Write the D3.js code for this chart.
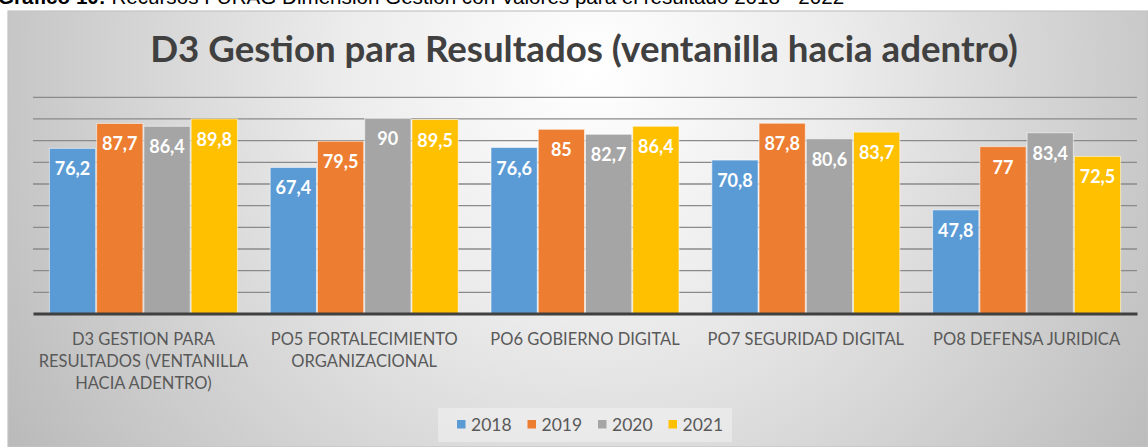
<!DOCTYPE html>
<html>
<head>
<meta charset="utf-8">
<script src="https://cdn.jsdelivr.net/npm/d3@7"></script>
<style>
  html, body { margin: 0; padding: 0; background: #ffffff; }
  svg { display: block; }
</style>
</head>
<body>
<svg id="chart" width="1148" height="447"></svg>
<script>
// ---- data ----
const caption = "Gráfico 10:";
const captionRest = " Recursos FURAG Dimensión Gestión con Valores para el resultado 2018 - 2022";
const title = "D3 Gestion para Resultados (ventanilla hacia adentro)";
const categories = [
  "D3 GESTION PARA RESULTADOS (VENTANILLA HACIA ADENTRO)",
  "PO5 FORTALECIMIENTO ORGANIZACIONAL",
  "PO6 GOBIERNO DIGITAL",
  "PO7 SEGURIDAD DIGITAL",
  "PO8 DEFENSA JURIDICA"
];
const seriesNames = ["2018", "2019", "2020", "2021"];
const values2018 = [76.2, 67.4, 76.6, 70.8, 47.8];
const values2019 = [87.7, 79.5, 85.0, 87.8, 77.0];
const values2020 = [86.4, 90.0, 82.7, 80.6, 83.4];
const values2021 = [89.8, 89.5, 86.4, 83.7, 72.5];
const yTicks = [0, 10, 20, 30, 40, 50, 60, 70, 80, 90, 100];
const colors = ["#5B9BD5", "#ED7D31", "#A5A5A5", "#FFC000"];

const series = [values2018, values2019, values2020, values2021];

const svg = d3.select("#chart");
const W = 1148, H = 447;

// background gradient
const defs = svg.append("defs");
const grad = defs.append("radialGradient")
  .attr("id", "bg").attr("gradientUnits", "userSpaceOnUse")
  .attr("cx", 590).attr("cy", 70).attr("r", 700);
grad.append("stop").attr("offset", "0").attr("stop-color", "#ffffff");
grad.append("stop").attr("offset", "0.35").attr("stop-color", "#ececec");
grad.append("stop").attr("offset", "1").attr("stop-color", "#b9b9b9");

svg.append("rect").attr("x", 8).attr("y", 11).attr("width", W - 8).attr("height", H - 11)
  .attr("fill", "url(#bg)").attr("stroke", "#c4c4c4").attr("stroke-width", 1.2);

// caption (cut off at the top, as in the source document)
const cap = svg.append("text").attr("x", -2).attr("y", 4)
  .attr("font-family", "Liberation Sans, Arial, sans-serif").attr("font-size", 18).attr("fill", "#000");
cap.append("tspan").attr("font-weight", "bold").text(caption);
cap.append("tspan").text(captionRest);
{
  const len = cap.node().getComputedTextLength();
  cap.attr("font-size", 18 * 847 / len);
}

// title
const tt = svg.append("text").attr("x", 584).attr("y", 62).attr("text-anchor", "middle")
  .attr("font-family", "Lato, sans-serif").attr("font-weight", "bold").attr("font-size", 32)
  .attr("fill", "#404040").text(title);
{
  const len = tt.node().getComputedTextLength();
  tt.attr("font-size", 32 * 868 / len);
}

// scales
const plotLeft = 33, plotRight = 1137, plotBottom = 313.5, plotTop = 96.8;
const x0 = d3.scaleBand().domain(categories).range([plotLeft, plotRight])
  .paddingInner(0.144).paddingOuter(0.072);
const x1 = d3.scaleBand().domain(seriesNames).range([0, x0.bandwidth()]).padding(0);
const y = d3.scaleLinear().domain([0, 100]).range([plotBottom, plotTop]);

// gridlines
const grid = d3.axisLeft(y).tickValues(yTicks.filter(d => d > 0)).tickSize(-(plotRight - plotLeft)).tickFormat("");
const gg = svg.append("g").attr("transform", `translate(${plotLeft},0)`).call(grid);
gg.select(".domain").remove();
gg.selectAll(".tick line").attr("stroke", "#8a8a8a").attr("stroke-width", 1.3);

// bars
const groups = svg.append("g").selectAll("g").data(categories).join("g")
  .attr("transform", d => `translate(${x0(d)},0)`);

groups.selectAll("rect")
  .data((c, ci) => seriesNames.map((s, si) => ({ s, si, v: series[si][ci] })))
  .join("rect")
  .attr("x", d => x1(d.s) + 0.5)
  .attr("y", d => y(d.v))
  .attr("width", x1.bandwidth() - 1)
  .attr("height", d => y(0) - y(d.v))
  .attr("fill", d => colors[d.si])
  .attr("stroke", "rgba(255,255,255,0.55)").attr("stroke-width", 1);

groups.selectAll("text.val")
  .data((c, ci) => seriesNames.map((s, si) => ({ s, si, v: series[si][ci] })))
  .join("text").attr("class", "val")
  .attr("x", d => x1(d.s) + x1.bandwidth() / 2)
  .attr("y", d => y(d.v) + 27)
  .attr("text-anchor", "middle")
  .attr("font-family", "Lato, sans-serif").attr("font-weight", "bold").attr("font-size", 18)
  .attr("fill", "#ffffff")
  .text(d => String(d.v).replace(".", ","));

// x axis
const xAxis = d3.axisBottom(x0).tickSize(0).tickFormat("");
const xa = svg.append("g").attr("transform", `translate(0,${plotBottom})`).call(xAxis);
xa.select(".domain").attr("stroke", "#404040").attr("stroke-width", 3);

// category labels, wrapped
const labG = svg.append("g");
categories.forEach(c => {
  const t = labG.append("text").attr("text-anchor", "middle")
    .attr("font-family", "Lato, sans-serif").attr("font-size", 16.5).attr("fill", "#595959");
  const words = c.split(" ");
  let lines = [], cur = [];
  const maxW = x0.step() - 2;
  const probe = t.append("tspan");
  words.forEach(w => {
    const test = cur.concat([w]).join(" ");
    probe.text(test);
    if (probe.node().getComputedTextLength() > maxW && cur.length) {
      lines.push(cur.join(" ")); cur = [w];
    } else cur.push(w);
  });
  lines.push(cur.join(" "));
  probe.remove();
  lines.forEach((l, i) => {
    t.append("tspan").attr("x", x0(c) + x0.bandwidth() / 2).attr("y", 345 + i * 22).text(l);
  });
});

// legend
svg.append("rect").attr("x", 438).attr("y", 408).attr("width", 294).attr("height", 34)
  .attr("fill", "#ffffff").attr("fill-opacity", 0.35);
const lg = svg.append("g").selectAll("g").data(seriesNames).join("g")
  .attr("transform", (d, i) => `translate(${457 + i * 70.5},0)`);
lg.append("rect").attr("x", 0).attr("y", 420).attr("width", 8.5).attr("height", 8.5)
  .attr("fill", (d, i) => colors[i]);
lg.append("text").attr("x", 14).attr("y", 431)
  .attr("font-family", "Lato, sans-serif").attr("font-size", 17.5).attr("fill", "#595959")
  .text(d => d);
</script>
</body>
</html>
